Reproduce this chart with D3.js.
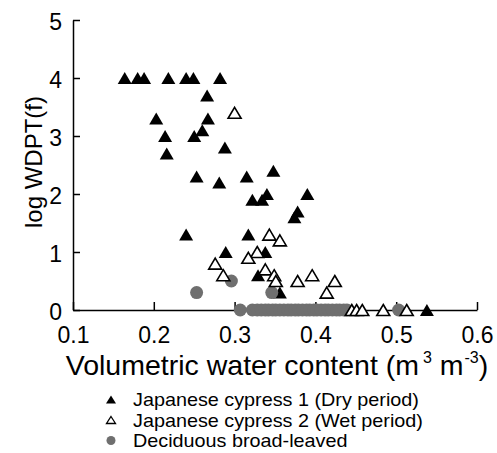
<!DOCTYPE html>
<html>
<head>
<meta charset="utf-8">
<script src="https://cdn.jsdelivr.net/npm/d3@7"></script>
<style>
  html, body { margin: 0; padding: 0; background: #fff; }
  svg { display: block; font-family: "Liberation Sans", Arial, sans-serif; }
</style>
</head>
<body>
<svg id="chart" width="497" height="453"></svg>
<script>
// Volumetric water content (m3 m-3) and log WDPT(f) per sample

// Japanese cypress 1 (dry period)
const dryX = [0.164, 0.180, 0.188, 0.218, 0.240, 0.249, 0.282,
  0.266, 0.203, 0.267, 0.214, 0.260, 0.250, 0.216, 0.288,
  0.253, 0.281, 0.315, 0.348, 0.322, 0.334, 0.340, 0.390, 0.378, 0.374,
  0.240, 0.317, 0.289, 0.338, 0.329, 0.356, 0.538];
const dryY = [4.0, 4.0, 4.0, 4.0, 4.0, 4.0, 4.0,
  3.7, 3.3, 3.3, 3.0, 3.1, 3.0, 2.7, 2.8,
  2.3, 2.2, 2.3, 2.4, 1.9, 1.9, 2.0, 2.0, 1.7, 1.6,
  1.3, 1.3, 1.0, 1.0, 0.6, 0.3, 0.0];

// Japanese cypress 2 (wet period)
const wetX = [0.300, 0.343, 0.356, 0.328, 0.317, 0.276, 0.286, 0.338, 0.349,
  0.351, 0.378, 0.396, 0.424, 0.414, 0.445, 0.451, 0.458, 0.484, 0.513];
const wetY = [3.4, 1.3, 1.2, 1.0, 0.9, 0.8, 0.6, 0.7, 0.6,
  0.5, 0.5, 0.6, 0.5, 0.3, 0.0, 0.0, 0.0, 0.0, 0.0];

// Deciduous broad-leaved
const decX = [0.253, 0.296, 0.346, 0.307,
  0.322, 0.328, 0.333, 0.338, 0.342, 0.347, 0.351, 0.356, 0.361, 0.366,
  0.370, 0.375, 0.379, 0.384, 0.389, 0.393, 0.398, 0.402, 0.407, 0.412,
  0.416, 0.421, 0.426, 0.430, 0.435, 0.439, 0.503];
const decY = [0.3, 0.5, 0.3, 0.0,
  0.0, 0.0, 0.0, 0.0, 0.0, 0.0, 0.0, 0.0, 0.0, 0.0,
  0.0, 0.0, 0.0, 0.0, 0.0, 0.0, 0.0, 0.0, 0.0, 0.0,
  0.0, 0.0, 0.0, 0.0, 0.0, 0.0, 0.0];

const xTicks = [0.1, 0.2, 0.3, 0.4, 0.5, 0.6];
const yTicks = [0, 1, 2, 3, 4, 5];
const legendLabels = [
  "Japanese cypress 1 (Dry period)",
  "Japanese cypress 2 (Wet period)",
  "Deciduous broad-leaved"
];

const toPoints = (xs, ys) => xs.map((v, i) => ({ x: v, y: ys[i] }));
const dry = toPoints(dryX, dryY);
const wet = toPoints(wetX, wetY);
const dec = toPoints(decX, decY);

const svg = d3.select("#chart");
const x = d3.scaleLinear().domain([0.1, 0.6]).range([73, 477]);
const y = d3.scaleLinear().domain([0, 5]).range([310, 20]);

const GREY = "#6f6f6f";
const triPath = (w, h) => `M0,${-h / 2}L${w / 2},${h / 2}L${-w / 2},${h / 2}Z`;

// Axes with inward ticks
const xAxis = svg.append("g")
  .attr("transform", `translate(0,${y(0)})`)
  .call(d3.axisBottom(x).tickValues(xTicks).tickFormat(d3.format(".1f"))
    .tickSizeInner(-8).tickSizeOuter(0).tickPadding(17));
const yAxis = svg.append("g")
  .attr("transform", `translate(${x(0.1)},0)`)
  .call(d3.axisLeft(y).tickValues(yTicks).tickFormat(d3.format("d"))
    .tickSizeInner(-7).tickSizeOuter(0).tickPadding(11));

[xAxis, yAxis].forEach(g => {
  g.select(".domain").attr("stroke", "#000").attr("stroke-width", 1.5);
  g.selectAll(".tick line").attr("stroke", "#000").attr("stroke-width", 1.5);
  g.selectAll(".tick text").attr("fill", "#000").style("font-size", "23px")
    .style("font-family", '"Liberation Sans", Arial, sans-serif');
});
yAxis.selectAll(".tick text").attr("dy", "0.4em");

// Points
const plot = svg.append("g");
plot.selectAll("path.dry").data(dry).join("path")
  .attr("class", "dry")
  .attr("d", triPath(14, 12))
  .attr("transform", d => `translate(${x(d.x)},${y(d.y)})`)
  .attr("fill", "#000");

plot.selectAll("circle.dec").data(dec).join("circle")
  .attr("class", "dec")
  .attr("cx", d => x(d.x))
  .attr("cy", d => y(d.y))
  .attr("r", 6.5)
  .attr("fill", GREY);

plot.selectAll("path.wet").data(wet).join("path")
  .attr("class", "wet")
  .attr("d", triPath(13, 11))
  .attr("transform", d => `translate(${x(d.x)},${y(d.y)})`)
  .attr("fill", "#fff")
  .attr("stroke", "#000")
  .attr("stroke-width", 1.6)
  .attr("stroke-linejoin", "miter");

// Axis titles
svg.append("text")
  .attr("transform", "translate(42,162) rotate(-90)")
  .attr("text-anchor", "middle")
  .style("font-size", "24px")
  .text("log WDPT(f)");

const xt = svg.append("text")
  .attr("x", 277).attr("y", 375)
  .attr("text-anchor", "middle")
  .style("font-size", "28.5px");
xt.append("tspan").text("Volumetric water content (m");
xt.append("tspan").attr("dx", 4).attr("dy", -12).style("font-size", "16px").text("3");
xt.append("tspan").attr("dy", 12).text(" m");
xt.append("tspan").attr("dx", 1).attr("dy", -12).style("font-size", "16px").text("-3");
xt.append("tspan").attr("dy", 12).text(")");

// Legend
const legend = svg.append("g");
const rowY = [406, 426.5, 447];
legendLabels.forEach((label, i) => {
  const cy = rowY[i] - 6.5;
  if (i === 0) {
    legend.append("path").attr("d", triPath(10, 8))
      .attr("transform", `translate(111,${cy})`).attr("fill", "#000");
  } else if (i === 1) {
    legend.append("path").attr("d", triPath(9, 7))
      .attr("transform", `translate(111,${cy})`)
      .attr("fill", "#fff").attr("stroke", "#000").attr("stroke-width", 1.3);
  } else {
    legend.append("circle").attr("cx", 111).attr("cy", cy).attr("r", 4.5).attr("fill", GREY);
  }
  legend.append("text")
    .attr("transform", `translate(133,${rowY[i]}) scale(1.1,1)`)
    .style("font-size", "18px").text(label);
});
</script>
</body>
</html>
